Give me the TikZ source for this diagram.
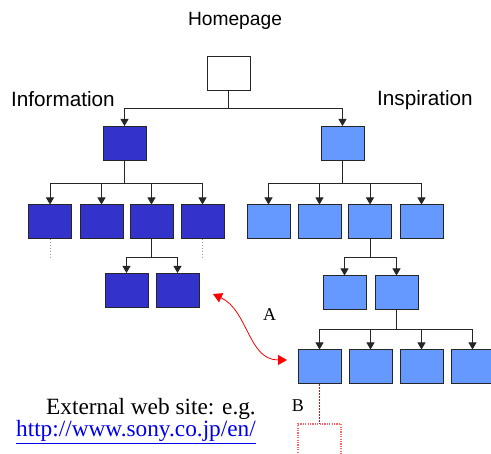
\documentclass[tikz,border=0pt]{standalone}
\usepackage{fontspec}
\setmainfont{Liberation Serif}
\newfontfamily\arialf{Liberation Sans}
\usetikzlibrary{arrows.meta}
\definecolor{darkb}{HTML}{3333CC}
\definecolor{lightb}{HTML}{6699FF}
\definecolor{urlblue}{HTML}{0000EE}
\begin{document}
\begin{tikzpicture}[x=1pt,y=-1pt,
  pagebox/.style={draw=black!85,line width=1pt,minimum width=43pt,minimum height=34pt,inner sep=0pt},
  infobox/.style={pagebox,fill=darkb},
  inspbox/.style={pagebox,fill=lightb},
  homebox/.style={pagebox,fill=white},
  conn/.style={draw=black!85,line width=0.9pt},
  arr/.style={conn,-{Triangle[width=8pt,length=7pt]}},
  hint/.style={draw=black!40,line width=0.9pt,dotted},
  linkarr/.style={draw=red,line width=0.8pt,{Triangle[width=10pt,length=9pt]}-{Triangle[width=10pt,length=9pt]}},
  extlink/.style={draw=red,line width=1.5pt,dash pattern=on 1.5pt off 1.5pt},
  extbox/.style={draw=red!60,line width=1.2pt,dash pattern=on 1.2pt off 1.2pt},
  sanslabel/.style={font=\arialf\fontsize{20.7}{23}\selectfont,inner sep=0pt},
  seriflabel/.style={font=\fontsize{18}{20}\selectfont,inner sep=0pt}
]
\useasboundingbox (0,0) rectangle (491,454);
\clip (0,0) rectangle (491,454);

% labels
\node[sanslabel,font=\arialf\fontsize{19.2}{22}\selectfont,anchor=base] (homelbl) at (235,26) {Homepage};
\node[sanslabel,anchor=base west] (infolbl) at (11,107) {Information};
\node[sanslabel,anchor=base west] (insplbl) at (377,106) {Inspiration};

% boxes
\node[homebox] (home) at (228.5,74) {};
\node[infobox] (info) at (124.5,143.5) {};
\node[inspbox] (insp) at (342.5,143.5) {};

\node[infobox] (l1) at (50,222) {};
\node[infobox] (l2) at (101.5,222) {};
\node[infobox] (l3) at (151.5,222) {};
\node[infobox] (l4) at (202.5,222) {};

\node[inspbox] (r1) at (268.5,222) {};
\node[inspbox] (r2) at (319.5,222) {};
\node[inspbox] (r3) at (370,222) {};
\node[inspbox] (r4) at (421.5,222) {};

\node[infobox] (l31) at (126.5,290.5) {};
\node[infobox] (l32) at (177.5,290.5) {};

\node[inspbox] (r31) at (344.5,293) {};
\node[inspbox] (r32) at (396.5,293) {};

\node[inspbox] (r41) at (319.5,367) {};
\node[inspbox] (r42) at (370.5,367) {};
\node[inspbox] (r43) at (421.5,367) {};
\node[inspbox] (r44) at (472.5,367) {};

% connectors
\draw[conn] (home.south) -- ++(0,17) coordinate (hb);
\draw[arr] (hb) -| (info.north);
\draw[arr] (hb) -| (insp.north);

\draw[conn] (info.south) -- ++(0,22) coordinate (ib);
\foreach \n in {l1,l2,l3,l4} \draw[arr] (ib) -| (\n.north);

\draw[conn,line width=1.6pt] (insp.south) -- ++(0,22) coordinate (sb);
\foreach \n in {r1,r2,r3,r4} \draw[arr] (sb) -| (\n.north);

\draw[conn] (l3.south) -- ++(0,18) coordinate (l3b);
\foreach \n in {l31,l32} \draw[arr] (l3b) -| (\n.north);

\draw[conn] (r3.south) -- ++(0,18) coordinate (r3b);
\foreach \n in {r31,r32} \draw[arr] (r3b) -| (\n.north);

\draw[conn] (r32.south) -- ++(0,19) coordinate (r32b);
\foreach \n in {r41,r42,r43,r44} \draw[arr] (r32b) -| (\n.north);

% dotted hints
\draw[hint] (l1.south) -- ++(0,20);
\draw[hint] (l4.south) -- ++(0,20);

% link A
\coordinate (aend1) at (213,294);
\coordinate (aend2) at (287,360);
\draw[linkarr] (aend1) to[out=-25,in=180] (aend2);
\node[seriflabel,anchor=base] (alab) at (269.5,321) {A};

% link B and external site
\coordinate (extTL) at (298,424);
\coordinate (extTR) at (341,424);
\coordinate (extBL) at (298,460);
\coordinate (extBR) at (341,460);
\coordinate (extTop) at (319.5,424);
\draw[extlink] (r41.south) -- (extTop);
\draw[extbox] (extBL) -- (extTL) -- (extTR) -- (extBR);
\node[seriflabel,anchor=base] (blab) at (298,412) {B};

\node[font=\fontsize{23.3}{18.5}\selectfont,inner sep=0pt,anchor=base east,align=right] (ext) at (256,437)
  {External web site: e.g.\\{\color{urlblue}\underline{http://www.sony.co.jp/en/}}};
\end{tikzpicture}
\end{document}
